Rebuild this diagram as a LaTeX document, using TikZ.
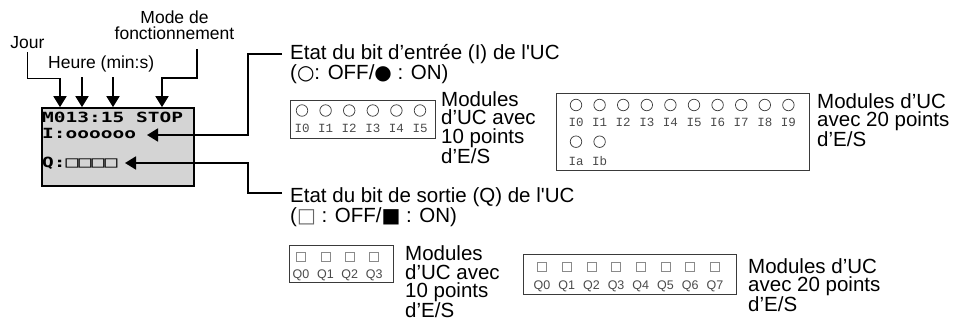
\documentclass[tikz,border=0pt]{standalone}
\usepackage{fontspec}
\newfontfamily\arial{Liberation Sans}
\newfontfamily\lcdfont{DejaVu Sans Mono}
\newfontfamily\cour{Liberation Mono}
\newfontfamily\dvs{DejaVu Sans}
\usetikzlibrary{arrows.meta}
\definecolor{lcdgray}{HTML}{D4D4D4}
\definecolor{boxline}{HTML}{3A3A3A}
\definecolor{circline}{HTML}{404040}
\definecolor{sqline}{HTML}{8A8A8A}
\definecolor{labgray}{HTML}{4A4A4A}
\newcommand{\symb}[1]{{\fontsize{20}{20}\dvs #1}}
\begin{document}
\begin{tikzpicture}[x=1pt,y=-1pt,
  conn/.style={line width=1.8pt, -{Triangle[length=11pt,width=13pt]}},
  big/.style={font=\fontsize{20.5}{20}\arial, inner sep=0pt, anchor=north west, align=left},
  mods/.style={font=\fontsize{20.5}{18.5}\arial, inner sep=0pt, anchor=north west, align=left},
  toplab/.style={font=\fontsize{17.5}{16}\arial, inner sep=0pt},
  lcdtext/.style={font=\fontsize{19.5}{19.5}\lcdfont\bfseries, inner sep=0pt, anchor=base west},
  iobox/.style={draw=boxline, line width=0.9pt, inner sep=0pt, anchor=north west},
  incirc/.style={draw=circline, circle, minimum size=11.5pt, inner sep=0pt, line width=0.75pt},
  outsq/.style={draw=sqline, rectangle, minimum size=9pt, inner sep=0pt, line width=0.8pt},
  inlab/.style={font=\fontsize{12.5}{12.5}\cour, text=labgray, inner sep=0pt, anchor=base},
  outlab/.style={font=\fontsize{12.5}{12.5}\arial, text=labgray, inner sep=0pt, anchor=base},
]
\useasboundingbox (0,0) rectangle (958,325);

% ---- LCD display
\node[draw=black, line width=2.3pt, fill=lcdgray, minimum width=152pt, minimum height=77.4pt,
      inner sep=0pt, anchor=north west] (lcd) at (41.15,107.15) {};
\node[lcdtext] (row1) at (42,122) {\scalebox{1}[0.72]{M013:15 STOP}};
\node[lcdtext] (row2) at (42,138) {\scalebox{1}[0.72]{I:oooooo}};
\node[lcdtext] (row3) at (42,167) {\scalebox{1}[0.72]{Q:{\fontsize{21.5}{21.5}\selectfont □□□□}}};

% ---- top labels
\node[toplab, anchor=north] (jour) at (27.5,35.8) {Jour};
\node[toplab, anchor=north west] (heure) at (48,55.3) {Heure (min:s)};
\node[toplab, anchor=north, align=center] (mode) at (174.5,10.5) {Mode de\\fonctionnement};

\coordinate (xA) at (60,0);
\coordinate (xB) at (82,0);
\coordinate (xC) at (113,0);
\coordinate (xD) at (162,0);
\coordinate (xM) at (197,0);
\coordinate (yH) at (0,78);

\draw[conn] ([yshift=-4pt]jour.south) -- ++(0,26) -| (lcd.north -| xA);
\draw[conn] ([yshift=-5.3pt]heure.south -| xB) -- (lcd.north -| xB);
\draw[conn] ([yshift=-5.3pt]heure.south -| xC) -- (lcd.north -| xC);
\draw[conn] ([yshift=-9pt]mode.south -| xM) -- (xM |- yH) -| (lcd.north -| xD);

% ---- right-hand explanations
\node[big] (etatI) at (290,44.2) {Etat du bit d’entrée (I) de l'UC\\(\symb{○}: OFF/\symb{●} : ON)};
\node[big] (etatQ) at (290,187.2) {Etat du bit de sortie (Q) de l'UC\\(\textcolor{black!60}{\symb{□}} : OFF/\symb{■} : ON)};

\coordinate (ti) at (147,135);
\coordinate (tq) at (125,163);
\draw[conn] ([xshift=-8pt,yshift=-9.8pt]etatI.north west) -- ++(-34,0) |- (ti);
\draw[conn] ([xshift=-8pt,yshift=-5.8pt]etatQ.north west) -- ++(-34,0) |- (tq);

% ---- input, 10 points
\node[iobox, minimum width=145pt, minimum height=38pt] (in10) at (290,100) {};
\foreach \i in {0,...,5} {
  \node[incirc] (ic\i) at ({302+23.6*\i},110.5) {};
  \node[inlab] (il\i) at ({302+23.6*\i},132.3) {I\i};
}
\node[mods] (m1) at (441,91.3) {Modules\\d’UC avec\\10 points\\d’E/S};

% ---- input, 20 points
\node[iobox, minimum width=253pt, minimum height=77pt] (in20) at (556,93) {};
\foreach \i in {0,...,9} {
  \node[incirc] (jc\i) at ({576+23.6*\i},105) {};
  \node[inlab] (jl\i) at ({576+23.6*\i},126.5) {I\i};
}
\node[incirc] (jca) at (576,141.7) {};
\node[inlab] (jla) at (576,165) {Ia};
\node[incirc] (jcb) at (599.6,141.7) {};
\node[inlab] (jlb) at (599.6,165) {Ib};
\node[mods] (m2) at (817,93) {Modules d’UC\\avec 20 points\\d’E/S};

% ---- output, 10 points
\node[iobox, minimum width=104pt, minimum height=37.5pt] (out10) at (289,244.5) {};
\foreach \i in {0,...,3} {
  \node[outsq] (qs\i) at ({301+24.4*\i},256.5) {};
  \node[outlab] (ql\i) at ({301+24.4*\i},278.5) {Q\i};
}
\node[mods] (m3) at (405,245.5) {Modules\\d’UC avec\\10 points\\d’E/S};

% ---- output, 20 points
\node[iobox, minimum width=213pt, minimum height=40pt] (out20) at (523,254) {};
\foreach \i in {0,...,7} {
  \node[outsq] (rs\i) at ({542+24.7*\i},267) {};
  \node[outlab] (rl\i) at ({542+24.7*\i},289) {Q\i};
}
\node[mods] (m4) at (748,258.3) {Modules d’UC\\avec 20 points\\d’E/S};
\end{tikzpicture}
\end{document}
